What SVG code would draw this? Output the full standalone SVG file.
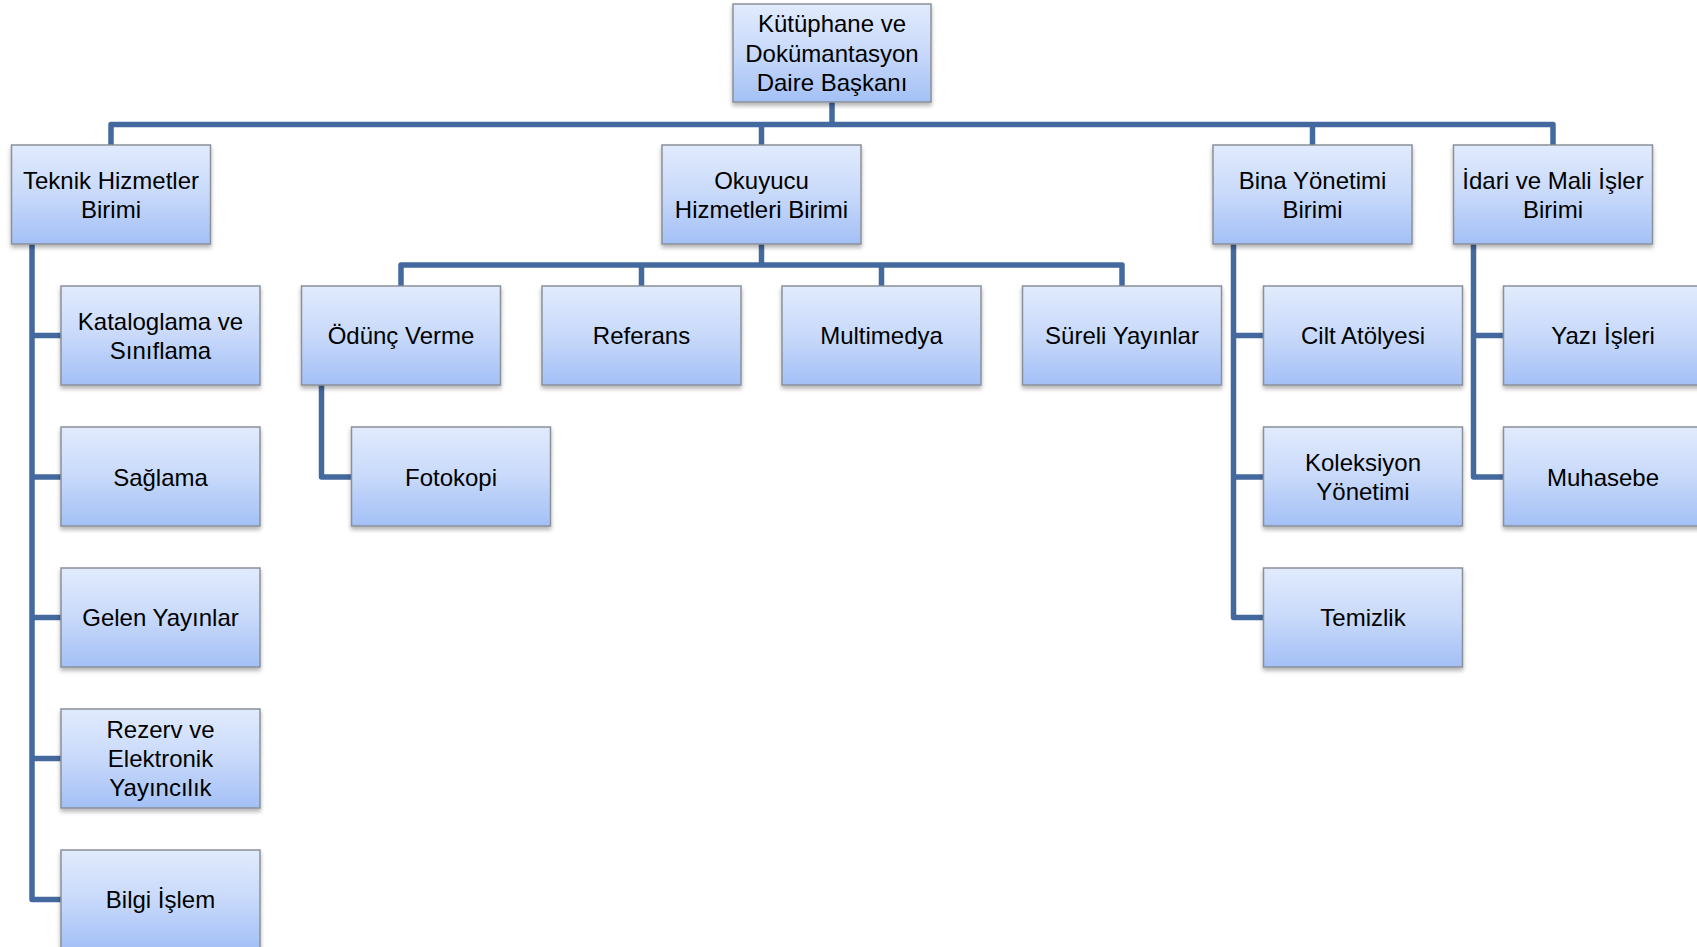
<svg xmlns="http://www.w3.org/2000/svg" width="1697" height="947" viewBox="0 0 1697 947">
<defs>
<linearGradient id="g" x1="0" y1="0" x2="0" y2="1">
<stop offset="0" stop-color="#e1ebfd"/>
<stop offset="0.5" stop-color="#c8d9fa"/>
<stop offset="1" stop-color="#a3c0f6"/>
</linearGradient>
<filter id="sh" x="-10%" y="-10%" width="120%" height="130%">
<feDropShadow dx="0" dy="3" stdDeviation="2" flood-color="#000" flood-opacity="0.3"/>
</filter>
</defs>
<style>
rect.b{fill:url(#g);stroke:#8a9099;stroke-width:1.5;filter:url(#sh)}
text{font-family:"Liberation Sans",Arial,sans-serif;font-size:24px;fill:#000;text-anchor:middle}
.c path{fill:none;stroke:#44699e;stroke-width:5.5;stroke-linejoin:round;stroke-linecap:butt}
</style>
<rect width="1697" height="947" fill="#fff"/>
<g class="c" id="connectors">
<path d="M832 102 V124.5"/>
<path d="M111 145 V124.5 H1553 V145"/>
<path d="M761.5 124.5 V145"/>
<path d="M1312.5 124.5 V145"/>
<path d="M761.5 244 V265"/>
<path d="M401 286 V265 H1122 V286"/>
<path d="M641.5 265 V286"/>
<path d="M881.5 265 V286"/>
<path d="M321.5 385 V477 H351.5"/>
<path d="M32 244 V899.5 H61"/>
<path d="M32 335.5 H61"/>
<path d="M32 477 H61"/>
<path d="M32 617.5 H61"/>
<path d="M32 758.5 H61"/>
<path d="M1233.5 244 V617.5 H1263.5"/>
<path d="M1233.5 335.5 H1263.5"/>
<path d="M1233.5 477 H1263.5"/>
<path d="M1473.5 244 V477 H1503.5"/>
<path d="M1473.5 335.5 H1503.5"/>
</g>
<g id="n-top"><rect class="b" x="733" y="4" width="198" height="98"/>
<text x="832" y="32">Kütüphane ve</text><text x="832" y="61.5">Dokümantasyon</text><text x="832" y="91">Daire Başkanı</text></g>
<g id="n-teknik"><rect class="b" x="11.5" y="145" width="199" height="99"/>
<text x="111" y="188.5">Teknik Hizmetler</text><text x="111" y="217.5">Birimi</text></g>
<g id="n-okuyucu"><rect class="b" x="662" y="145" width="199" height="99"/>
<text x="761.5" y="188.5">Okuyucu</text><text x="761.5" y="217.5">Hizmetleri Birimi</text></g>
<g id="n-bina"><rect class="b" x="1213" y="145" width="199" height="99"/>
<text x="1312.5" y="188.5">Bina Yönetimi</text><text x="1312.5" y="217.5">Birimi</text></g>
<g id="n-idari"><rect class="b" x="1453.5" y="145" width="199" height="99"/>
<text x="1553" y="188.5">İdari ve Mali İşler</text><text x="1553" y="217.5">Birimi</text></g>
<g id="n-odunc"><rect class="b" x="301.5" y="286" width="199" height="99"/>
<text x="401" y="344">Ödünç Verme</text></g>
<g id="n-referans"><rect class="b" x="542" y="286" width="199" height="99"/>
<text x="641.5" y="344">Referans</text></g>
<g id="n-multimedya"><rect class="b" x="782" y="286" width="199" height="99"/>
<text x="881.5" y="344">Multimedya</text></g>
<g id="n-sureli"><rect class="b" x="1022.5" y="286" width="199" height="99"/>
<text x="1122" y="344">Süreli Yayınlar</text></g>
<g id="n-fotokopi"><rect class="b" x="351.5" y="427" width="199" height="99"/>
<text x="451" y="485.5">Fotokopi</text></g>
<g id="n-katalog"><rect class="b" x="61" y="286" width="199" height="99"/>
<text x="160.5" y="329.5">Kataloglama ve</text><text x="160.5" y="358.5">Sınıflama</text></g>
<g id="n-saglama"><rect class="b" x="61" y="427" width="199" height="99"/>
<text x="160.5" y="485.5">Sağlama</text></g>
<g id="n-gelen"><rect class="b" x="61" y="568" width="199" height="99"/>
<text x="160.5" y="626">Gelen Yayınlar</text></g>
<g id="n-rezerv"><rect class="b" x="61" y="709" width="199" height="99"/>
<text x="160.5" y="738">Rezerv ve</text><text x="160.5" y="767">Elektronik</text><text x="160.5" y="796">Yayıncılık</text></g>
<g id="n-bilgi"><rect class="b" x="61" y="850" width="199" height="99"/>
<text x="160.5" y="908">Bilgi İşlem</text></g>
<g id="n-cilt"><rect class="b" x="1263.5" y="286" width="199" height="99"/>
<text x="1363" y="344">Cilt Atölyesi</text></g>
<g id="n-koleksiyon"><rect class="b" x="1263.5" y="427" width="199" height="99"/>
<text x="1363" y="470.5">Koleksiyon</text><text x="1363" y="499.5">Yönetimi</text></g>
<g id="n-temizlik"><rect class="b" x="1263.5" y="568" width="199" height="99"/>
<text x="1363" y="626">Temizlik</text></g>
<g id="n-yazi"><rect class="b" x="1503.5" y="286" width="199" height="99"/>
<text x="1603" y="344">Yazı İşleri</text></g>
<g id="n-muhasebe"><rect class="b" x="1503.5" y="427" width="199" height="99"/>
<text x="1603" y="485.5">Muhasebe</text></g>
</svg>
